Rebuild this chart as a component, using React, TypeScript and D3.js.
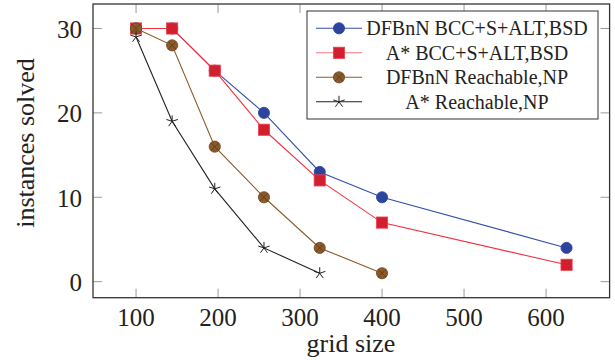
import React from 'react';
import * as d3 from 'd3';

const gridSizes = [100, 144, 196, 256, 324, 400, 625];
const dfbnnBcc = [30, 30, 25, 20, 13, 10, 4];
const astarBcc = [30, 30, 25, 18, 12, 7, 2];
const dfbnnReach = [30, 28, 16, 10, 4, 1];
const astarReach = [29, 19, 11, 4, 1];

const xTicks = [100, 200, 300, 400, 500, 600];
const yTicks = [0, 10, 20, 30];

const seriesNames = [
  'DFBnN BCC+S+ALT,BSD',
  'A* BCC+S+ALT,BSD',
  'DFBnN Reachable,NP',
  'A* Reachable,NP',
];

const width = 615;
const height = 360;
const left = 93;
const right = 609.6;
const top = 4;
const bottom = 297.7;
const font = '"Liberation Serif", "Times New Roman", serif';

type Series = { name: string; values: number[]; line: string; marker: string };

const series: Series[] = [
  { name: seriesNames[0], values: dfbnnBcc, line: '#3350aa', marker: 'circle' },
  { name: seriesNames[1], values: astarBcc, line: '#f0303e', marker: 'square' },
  { name: seriesNames[2], values: dfbnnReach, line: '#8a5a2a', marker: 'otimes' },
  { name: seriesNames[3], values: astarReach, line: '#222222', marker: 'star' },
];

const Marker = ({ type, x, y }: { type: string; x: number; y: number }) => {
  if (type === 'circle') {
    return <circle cx={x} cy={y} r={5.6} fill="#2c449e" stroke="#2c449e" strokeWidth={0.8} />;
  }
  if (type === 'square') {
    return <rect x={x - 5.6} y={y - 5.6} width={11.2} height={11.2} fill="#d21f2d" stroke="#ee4050" strokeWidth={0.8} />;
  }
  if (type === 'otimes') {
    const d = 5.6 * Math.SQRT1_2;
    return (
      <g>
        <circle cx={x} cy={y} r={5.6} fill="#8c5a28" stroke="#6a4420" strokeWidth={0.8} />
        <path d={`M${x - d},${y - d}L${x + d},${y + d}M${x - d},${y + d}L${x + d},${y - d}`} stroke="#5a3818" strokeWidth={0.8} />
      </g>
    );
  }
  // pgfplots "star": five spokes
  const r = 6;
  const spokes = d3.range(5).map((i) => {
    const a = (Math.PI / 2) + (i * 2 * Math.PI) / 5;
    return `M${x},${y}L${x + r * Math.cos(a)},${y - r * Math.sin(a)}`;
  });
  return <path d={spokes.join('')} stroke="#222" strokeWidth={1} fill="none" />;
};

const App = () => {
  const xScale = d3.scaleLinear().domain([47.5, 677.5]).range([left, right]);
  const yScale = d3.scaleLinear().domain([-1.9, 32.9]).range([bottom, top]);

  const line = d3
    .line<[number, number]>()
    .x((d) => xScale(d[0]))
    .y((d) => yScale(d[1]));

  const tickLen = 9;
  const legend = { x: 307, y: 11, w: 291, h: 108, row: 24.5 };

  return (
    <svg width={width} height={height} style={{ position: 'absolute', left: 0, top: 0, background: '#fff' }}>
      {/* ticks, inside on all sides */}
      <g stroke="#9a9a9a" strokeWidth={1}>
        {xTicks.map((t) => (
          <g key={'xt' + t}>
            <line x1={xScale(t)} x2={xScale(t)} y1={bottom} y2={bottom - tickLen} />
            <line x1={xScale(t)} x2={xScale(t)} y1={top} y2={top + tickLen} />
          </g>
        ))}
        {yTicks.map((t) => (
          <g key={'yt' + t}>
            <line x1={left} x2={left + tickLen} y1={yScale(t)} y2={yScale(t)} />
            <line x1={right} x2={right - tickLen} y1={yScale(t)} y2={yScale(t)} />
          </g>
        ))}
      </g>

      {/* series lines */}
      {series.map((s) => (
        <path
          key={'l' + s.name}
          d={line(s.values.map((v, i) => [gridSizes[i], v] as [number, number])) || ''}
          fill="none"
          stroke={s.line}
          strokeWidth={1.1}
        />
      ))}
      {series.map((s) =>
        s.values.map((v, i) => (
          <Marker key={s.name + i} type={s.marker} x={xScale(gridSizes[i])} y={yScale(v)} />
        ))
      )}

      {/* frame */}
      <rect x={left} y={top} width={right - left} height={bottom - top} fill="none" stroke="#333" strokeWidth={1.3} />

      {/* tick labels */}
      <g fontFamily={font} fontSize={25} fill="#222">
        {xTicks.map((t) => (
          <text key={'xl' + t} x={xScale(t)} y={325.5} textAnchor="middle">
            {t}
          </text>
        ))}
        {yTicks.map((t) => (
          <text key={'yl' + t} x={82} y={yScale(t) + 9.5} textAnchor="end">
            {t}
          </text>
        ))}
      </g>

      {/* axis labels */}
      <text x={351} y={352} textAnchor="middle" fontFamily={font} fontSize={26} fill="#222">
        grid size
      </text>
      <text
        transform={`translate(34, 143) rotate(-90)`}
        textAnchor="middle"
        fontFamily={font}
        fontSize={26}
        fill="#222"
      >
        instances solved
      </text>

      {/* legend */}
      <rect x={legend.x} y={legend.y} width={legend.w} height={legend.h} fill="#fff" stroke="#333" strokeWidth={1} />
      {series.map((s, i) => {
        const cy = legend.y + 17.3 + i * legend.row;
        return (
          <g key={'lg' + s.name}>
            <line x1={316} x2={362} y1={cy} y2={cy} stroke={i === 1 ? '#f57a80' : s.line} strokeWidth={1.1} />
            <Marker type={s.marker} x={339} y={cy} />
            <text x={477} y={cy + 6.8} textAnchor="middle" fontFamily={font} fontSize={20} fill="#222">
              {s.name}
            </text>
          </g>
        );
      })}
    </svg>
  );
};

export default App;
